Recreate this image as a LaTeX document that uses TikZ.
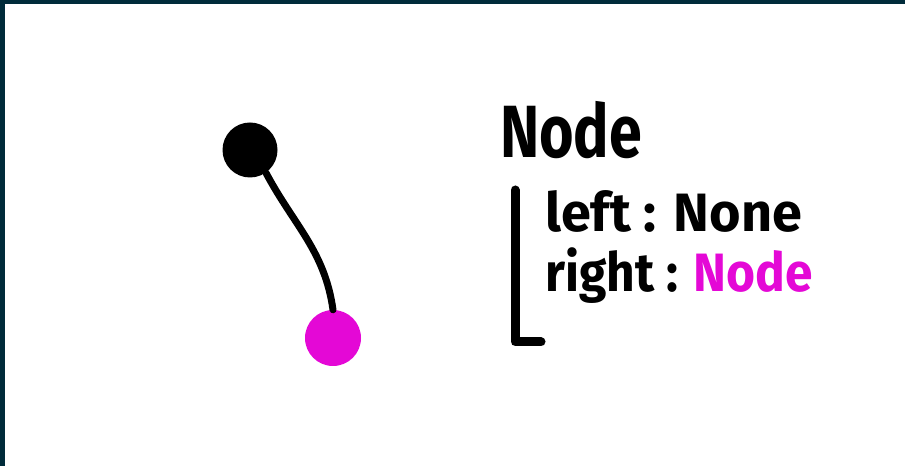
\documentclass[tikz,border=0pt]{standalone}
\usepackage{fontspec}
\setmainfont{Fira Sans}
\definecolor{frame}{RGB}{0,43,58}
\definecolor{pink}{RGB}{228,8,214}
\begin{document}
\begin{tikzpicture}
  [x=1pt,y=1pt,
   dot/.style={circle,inner sep=0pt,minimum size=#1},
   edge/.style={line width=7pt,line cap=round},
   word/.style={font=\fontsize{54}{54}\selectfont\bfseries,inner sep=0pt}]
  % lienzo y marco
  \fill[white] (0,0) rectangle (905,466);
  \fill[frame] (0,462) rectangle (905,466);
  \fill[frame] (0,0) rectangle (4.5,466);
  \useasboundingbox (0,0) rectangle (905,466);

  % los dos nodos del arbol
  \node[dot=55pt,fill=black] (root) at (250,316) {};
  \node[dot=56pt,fill=pink] (child) at (333,128) {};
  \draw[edge] (root.-55) to[out=-62,in=98] (child.north);

  % la estructura Node
  \node[word,font=\fontsize{74}{74}\selectfont\bfseries,xscale=0.8,anchor=base west] (title) at (500,308) {Node};
  \coordinate (top) at (515,276);
  \coordinate (corner) at (515,124);
  \coordinate (foot) at (541,124);
  \draw[line width=9pt,line cap=round,line join=round] (top) -- (corner) -- (foot);
  \node[word,anchor=base west] (leftline) at (545,234) {left : None};
  \node[word,anchor=base west,xscale=0.92] (rightline) at (545,174) {right : \textcolor{pink}{Node}};
\end{tikzpicture}
\end{document}
